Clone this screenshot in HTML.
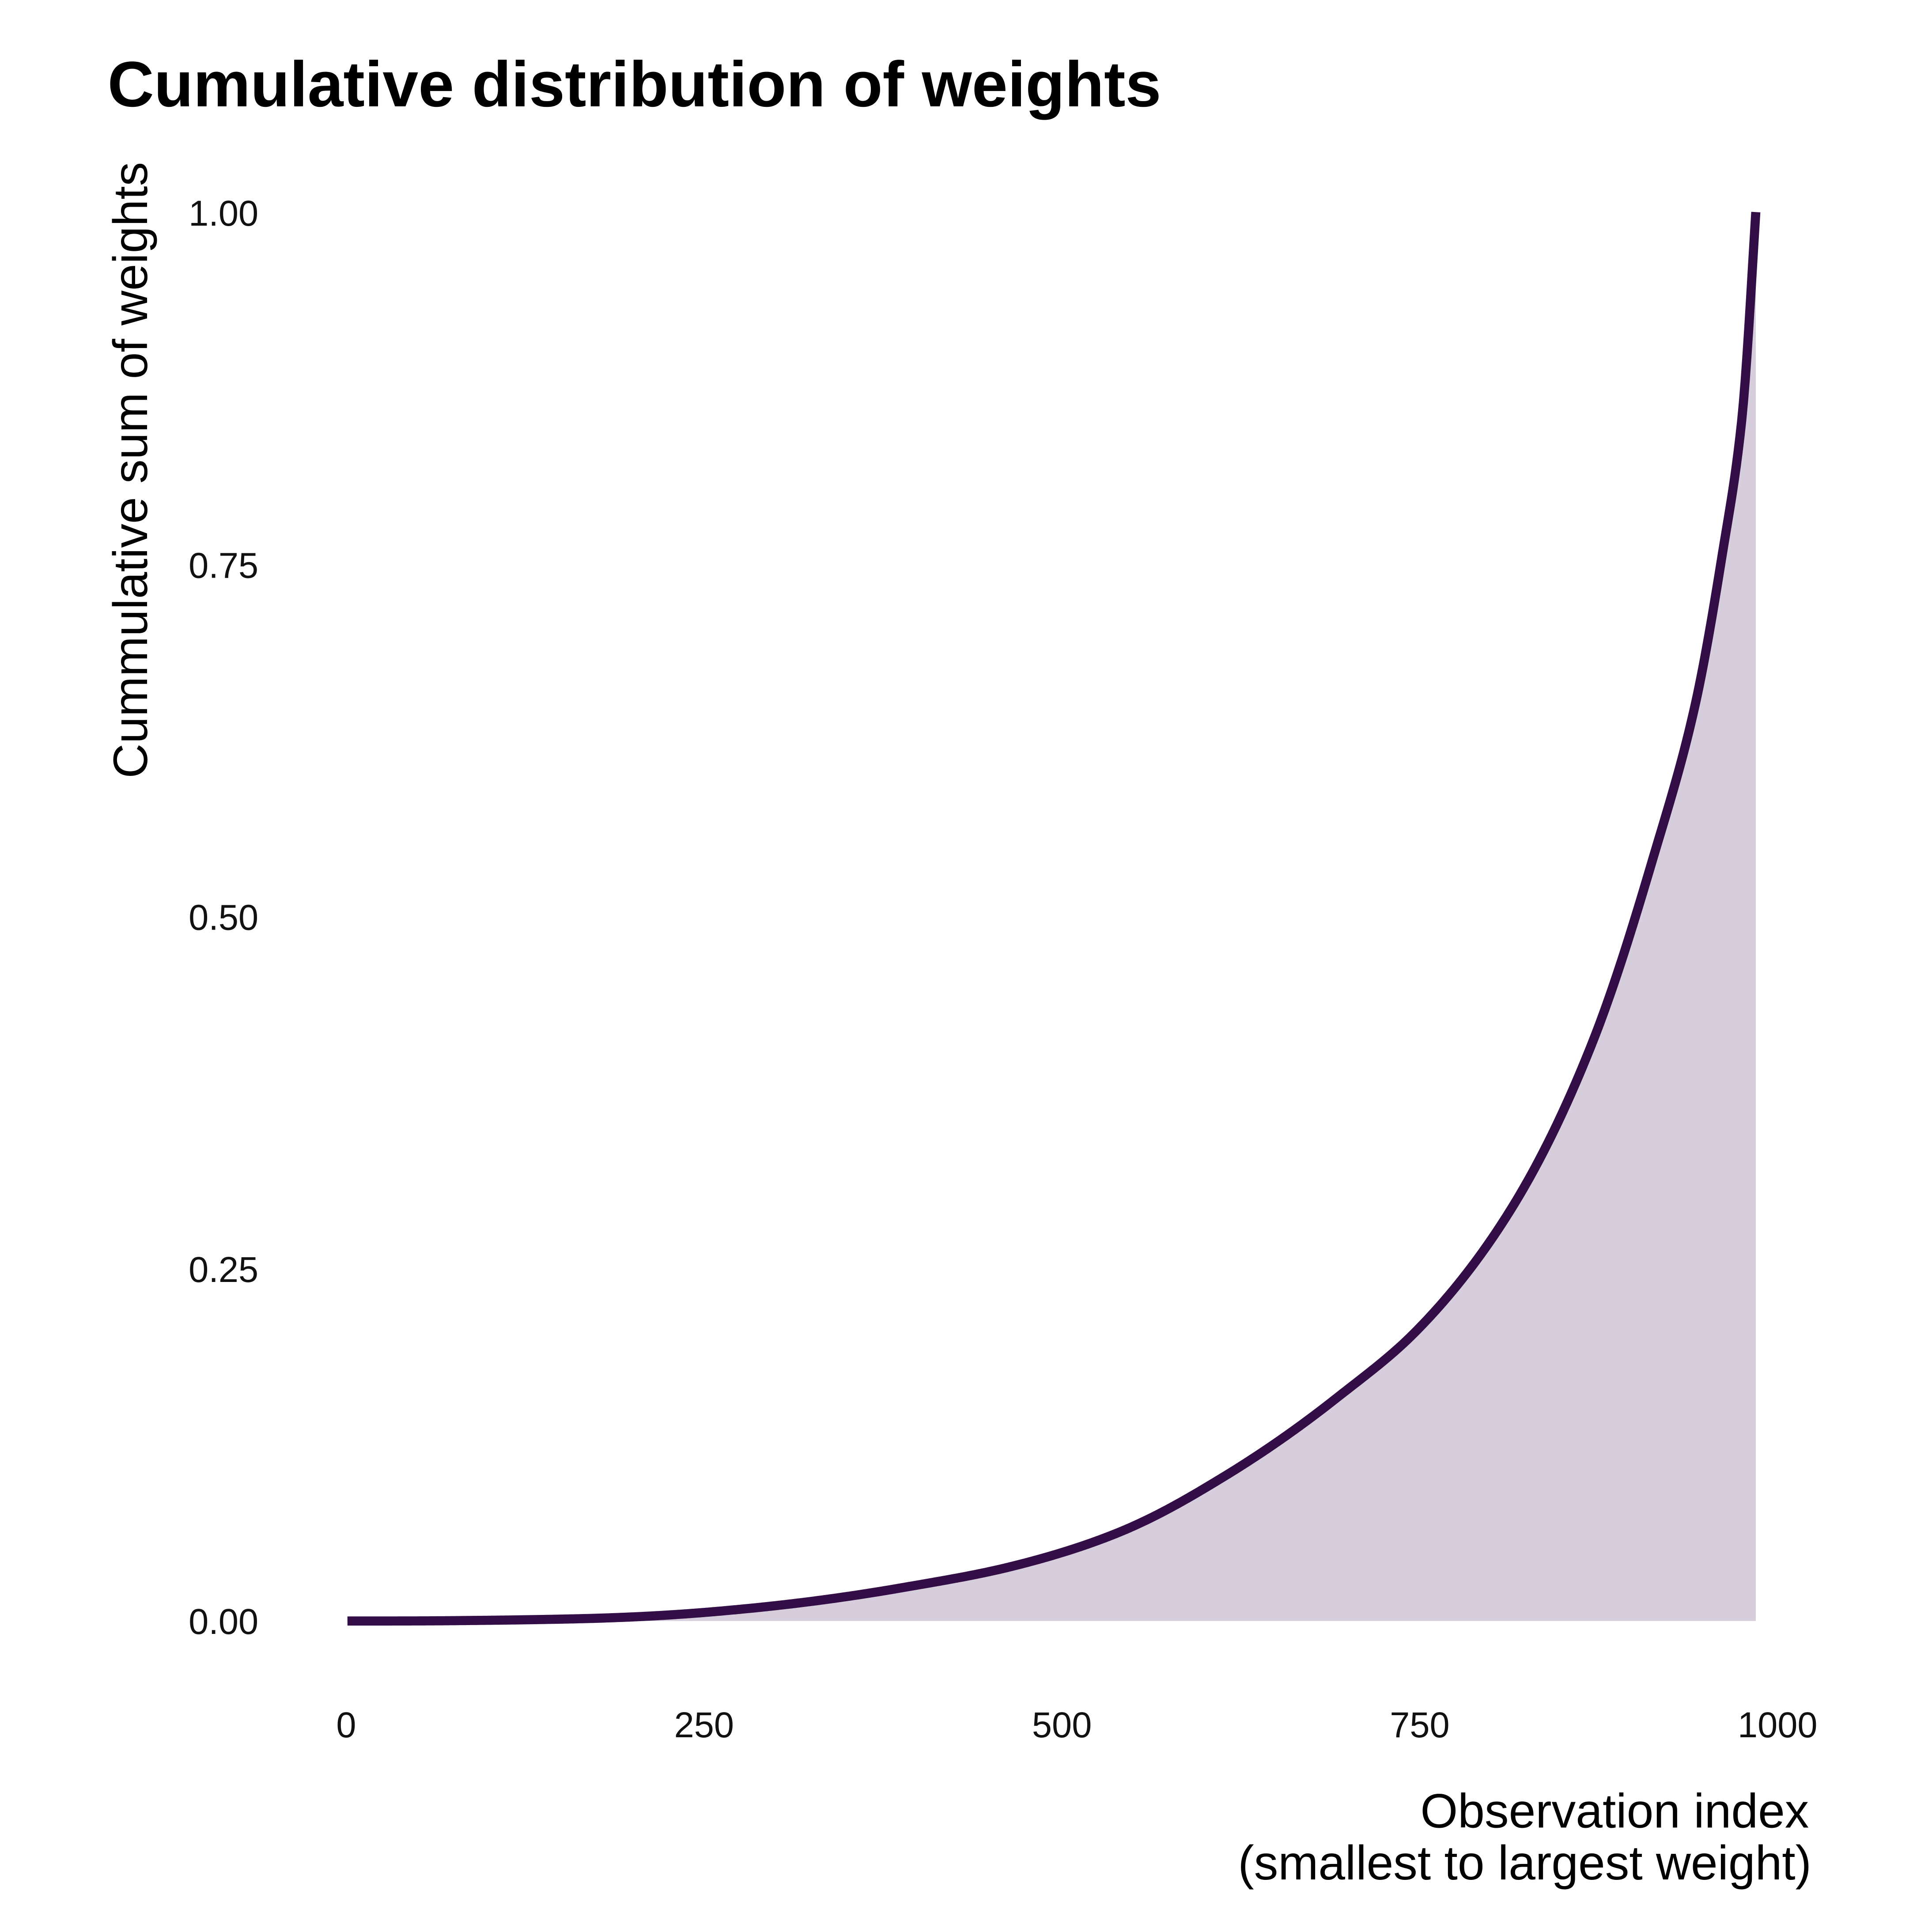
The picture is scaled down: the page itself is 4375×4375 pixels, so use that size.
<!DOCTYPE html>
<html><head><meta charset="utf-8"><style>html,body{margin:0;padding:0;background:#fff}svg{display:block}</style></head>
<body>
<svg id="s" xmlns="http://www.w3.org/2000/svg" width="4375" height="4375" viewBox="0 0 1562.5 1562.5" font-family="Liberation Sans, sans-serif">
<rect width="1562.5" height="1562.5" fill="#fff"/>
<path id="fill" fill="#d6cedc" d=""/>
<path id="line" fill="none" stroke="#330d46" stroke-width="7.4" stroke-linejoin="round" d=""/>
<text x="87" y="86" font-size="52" font-weight="bold" fill="#000">Cumulative distribution of weights</text>
<g font-size="29" fill="#111" text-anchor="end">
<text x="209" y="182.5">1.00</text>
<text x="209" y="467.3">0.75</text>
<text x="209" y="752">0.50</text>
<text x="209" y="1036.8">0.25</text>
<text x="209" y="1321.5">0.00</text>
</g>
<g font-size="29" fill="#111" text-anchor="middle">
<text x="280" y="1405">0</text>
<text x="569.4" y="1405">250</text>
<text x="858.8" y="1405">500</text>
<text x="1148.2" y="1405">750</text>
<text x="1437.6" y="1405">1000</text>
</g>
<text transform="translate(119,131) rotate(-90)" font-size="39" text-anchor="end" fill="#000">Cummulative sum of weights</text>
<g font-size="39" text-anchor="end" fill="#000">
<text x="1463" y="1478">Observation index</text>
<text x="1465" y="1520">(smallest to largest weight)</text>
</g>
</svg>
<script>
var T=[0,0.09,0.181,0.284,0.389,0.467,0.544,0.622,0.701,0.757,0.828,0.884,0.926,0.957,0.976,0.990,1];
var L=[-12,-7.8,-6.17,-4.73,-3.78,-3.28,-2.79,-2.28,-1.85,-1.59,-1.22,-0.89,-0.62,-0.43,-0.28,-0.16,0];
var n=T.length,dl=[],m=[];
for(var i=0;i<n-1;i++)dl.push((L[i+1]-L[i])/(T[i+1]-T[i]));
m[0]=dl[0];m[n-1]=dl[n-2];
for(i=1;i<n-1;i++){m[i]=(dl[i-1]*dl[i]<=0)?0:2/(1/dl[i-1]+1/dl[i]);}
function g(t){var k=0;while(k<n-2&&t>T[k+1])k++;var h=T[k+1]-T[k],s=(t-T[k])/h;
var h00=2*s*s*s-3*s*s+1,h10=s*s*s-2*s*s+s,h01=-2*s*s*s+3*s*s,h11=s*s*s-s*s;
return h00*L[k]+h10*h*m[k]+h01*L[k+1]+h11*h*m[k+1];}
var d="",N=800;
for(var j=0;j<=N;j++){var t=j/N;var f=t==0?0:Math.exp(g(t));
var x=281+1139*t,y=1311-1139.5*f;d+=(j?" L":"M")+x.toFixed(2)+","+y.toFixed(2);}
document.getElementById("line").setAttribute("d",d);
document.getElementById("fill").setAttribute("d",d+" L1420,1311 L281,1311 Z");
</script>
</body></html>
